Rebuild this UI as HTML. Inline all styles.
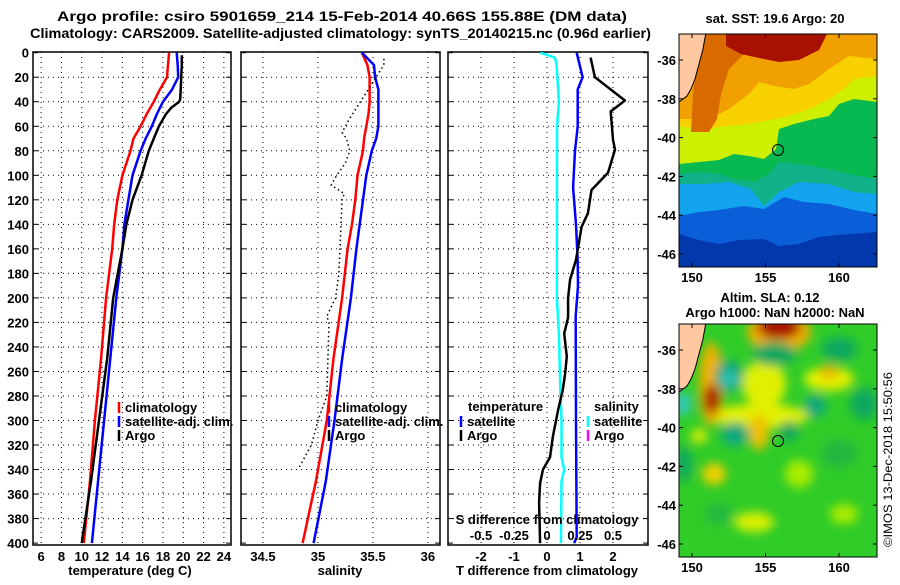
<!DOCTYPE html>
<html><head><meta charset="utf-8"><style>
html,body{margin:0;padding:0;background:#fff;}
svg text{font-family:"Liberation Sans",Arial,sans-serif;font-weight:bold;fill:#000;}
</style></head><body>
<svg id="fig" width="900" height="580" viewBox="0 0 900 580" xmlns="http://www.w3.org/2000/svg">
<defs>
<clipPath id="c1"><rect x="33" y="52" width="198" height="493"/></clipPath>
<clipPath id="c2"><rect x="241" y="52" width="199" height="493"/></clipPath>
<clipPath id="c3"><rect x="448" y="52" width="200" height="493"/></clipPath>
<clipPath id="m1"><rect x="0" y="0" width="198" height="233"/></clipPath>
<filter id="blur" x="-50%" y="-50%" width="200%" height="200%"><feGaussianBlur stdDeviation="5"/></filter>
</defs>
<text x="57" y="21" font-size="14" textLength="570" lengthAdjust="spacingAndGlyphs">Argo profile: csiro 5901659_214 15-Feb-2014 40.66S 155.88E (DM data)</text>
<text x="30" y="38" font-size="14" textLength="621" lengthAdjust="spacingAndGlyphs">Climatology: CARS2009. Satellite-adjusted climatology: synTS_20140215.nc (0.96d earlier)</text>
<g id="p1"></g>
<g id="p2"></g>
<g id="p3"></g>

<!-- SST map -->
<g>
<text x="775" y="23" font-size="13" text-anchor="middle">sat. SST: 19.6 Argo: 20</text>
<g transform="translate(679,34)" clip-path="url(#m1)">
<rect width="198" height="233" fill="#0338ac"/>
<polygon fill="#0a5fd8" points="0,0 198,0 198,198 170,200 140,203 120,210 100,212 85,205 60,206 40,210 20,206 0,200"/>
<polygon fill="#12a4ee" points="0,0 198,0 198,180 175,176 150,170 125,168 105,163 85,175 65,172 40,176 20,178 0,182"/>
<polygon fill="#10b088" points="0,0 198,0 198,160 175,158 150,150 120,148 100,158 85,172 72,155 50,148 25,150 0,150"/>
<polygon fill="#08b850" points="0,0 198,0 198,145 170,140 150,135 120,130 100,128 90,140 75,148 55,145 40,140 20,138 0,140"/>
<polygon fill="#cef000" points="0,0 198,0 198,68 175,65 160,70 150,82 135,85 115,90 100,95 97,115 85,125 70,122 55,120 40,126 20,128 0,130"/>
<polygon fill="#f8d000" points="0,0 198,0 198,42 175,45 165,55 150,65 130,75 110,82 90,86 70,90 45,92 25,96 0,92"/>
<polygon fill="#f0a000" points="0,0 198,0 198,25 170,22 150,35 130,50 115,55 95,52 80,48 70,60 50,75 30,85 0,85"/>
<polygon fill="#d86a00" points="18,0 70,0 65,20 50,35 42,60 38,85 30,98 12,98 14,60 18,30"/>
<polygon fill="#a81000" points="47,0 148,0 140,16 120,26 100,28 80,24 62,20 47,12"/>
<polygon fill="#ffc8a0" stroke="#000" stroke-width="1" points="-2,-2 27,-2 24,15 20,30 16,45 12,55 8,62 0,68 -2,68"/>
<circle cx="99" cy="116" r="5.5" fill="none" stroke="#000" stroke-width="1"/>
</g>
<rect x="679" y="34" width="198" height="233" fill="none" stroke="#000" stroke-width="1"/>
</g>

<!-- SLA map -->
<g>
<text x="770" y="302" font-size="13" text-anchor="middle">Altim. SLA: 0.12</text>
<text x="775" y="317" font-size="13" text-anchor="middle">Argo h1000: NaN h2000: NaN</text>
<g transform="translate(679,324)" clip-path="url(#m1)">
<rect width="198" height="233" fill="#30cc28"/>
<g filter="url(#blur)">
<ellipse cx="80" cy="92" rx="50" ry="12" fill="#e4f000"/>
<ellipse cx="85" cy="60" rx="22" ry="24" fill="#e0f000"/>
<ellipse cx="150" cy="55" rx="25" ry="12" fill="#e4f000"/>
<ellipse cx="100" cy="8" rx="32" ry="20" fill="#f0b000"/>
<ellipse cx="100" cy="3" rx="22" ry="12" fill="#a81000"/>
<ellipse cx="32" cy="60" rx="12" ry="42" fill="#f0b000"/>
<ellipse cx="33" cy="75" rx="8" ry="15" fill="#a81000"/>
<ellipse cx="80" cy="108" rx="10" ry="18" fill="#f0c000"/>
<ellipse cx="150" cy="48" rx="9" ry="7" fill="#f0b000"/>
<ellipse cx="50" cy="52" rx="14" ry="16" fill="#10a880"/>
<ellipse cx="50" cy="55" rx="7" ry="7" fill="#30c8c0"/>
<ellipse cx="95" cy="30" rx="22" ry="12" fill="#10a860"/>
<ellipse cx="160" cy="25" rx="18" ry="12" fill="#10a860"/>
<ellipse cx="136" cy="82" rx="11" ry="11" fill="#10a880"/>
<ellipse cx="56" cy="110" rx="14" ry="12" fill="#10a880"/>
<ellipse cx="110" cy="107" rx="10" ry="10" fill="#10a860"/>
<ellipse cx="4" cy="80" rx="8" ry="12" fill="#30c8c0"/>
<ellipse cx="185" cy="80" rx="14" ry="16" fill="#10a860"/>
<ellipse cx="20" cy="112" rx="8" ry="7" fill="#e4f000"/>
<ellipse cx="35" cy="150" rx="12" ry="11" fill="#f0d000"/>
<ellipse cx="75" cy="198" rx="20" ry="10" fill="#d8f000"/>
<ellipse cx="120" cy="150" rx="14" ry="14" fill="#a8ec00"/>
<ellipse cx="165" cy="190" rx="14" ry="10" fill="#a8ec00"/>
<ellipse cx="5" cy="140" rx="8" ry="18" fill="#10a860"/>
<ellipse cx="160" cy="130" rx="18" ry="14" fill="#20b840"/>
<ellipse cx="40" cy="190" rx="14" ry="10" fill="#20b840"/>
</g>
<polygon fill="#ffc8a0" stroke="#000" stroke-width="1" points="-2,-2 27,-2 24,15 20,30 16,45 12,55 8,62 0,68 -2,68"/>
<circle cx="99" cy="117" r="5.5" fill="none" stroke="#000" stroke-width="1"/>
</g>
<rect x="679" y="324" width="198" height="233" fill="none" stroke="#000" stroke-width="1"/>
</g>
<g id="mapaxes"></g>
<text transform="translate(892,547) rotate(-90)" font-size="12" style="font-weight:normal" textLength="175" lengthAdjust="spacingAndGlyphs">©IMOS 13-Dec-2018 15:50:56</text>
</svg>
<script>
// ---- data ----
const depthTicks = [0,20,40,60,80,100,120,140,160,180,200,220,240,260,280,300,320,340,360,380,400];
const tempTicks = [6,8,10,12,14,16,18,20,22,24];
const salTicks = [34.5,35,35.5,36];
const dTTicks = [-2,-1,0,1,2];
const dSTicks = [-0.5,-0.25,0,0.25,0.5];
const dSTickLabels = ["-0.5","-0.25","0","0.25","0.5"];
const depthsClim = [0,10,20,30,40,50,60,70,80,100,120,140,160,200,250,300,350,400];
const tempClim = [18.6,18.5,18.4,17.7,17.1,16.4,15.8,15.1,14.8,14.0,13.5,13.2,13.0,12.4,11.9,11.3,10.8,10.2];
const tempSat = [19.35,19.45,19.5,18.9,18.0,17.4,16.9,16.3,15.8,15.0,14.6,14.2,14.0,13.4,12.8,12.2,11.6,11.0];
const depthsArgoT = [2,10,20,30,38,40,45,50,60,70,80,100,120,140,160,200,250,300,350,400];
const tempArgo = [19.85,19.85,19.8,19.75,19.7,19.6,18.8,18.3,17.6,17.1,16.6,15.9,15.0,14.4,14.0,13.1,12.5,11.7,10.9,10.0];
const salClim = [35.40,35.45,35.47,35.47,35.47,35.46,35.44,35.42,35.41,35.36,35.34,35.31,35.27,35.22,35.14,35.08,34.98,34.86];
const salSat = [35.40,35.51,35.52,35.55,35.55,35.55,35.55,35.53,35.49,35.44,35.41,35.38,35.35,35.30,35.22,35.15,35.07,34.96];
const depthsArgoS = [5,10,55,60,65,70,80,90,100,108,115,120,140,160,180,200,215,220,280,300,320,338];
const salArgo = [35.60,35.60,35.28,35.25,35.22,35.26,35.29,35.25,35.17,35.12,35.24,35.22,35.21,35.20,35.19,35.16,35.08,35.10,35.08,35.00,34.94,34.83];
const depthsDTArgo = [4,20,39,48,71,79,98,112,131,142,169,185,200,216,229,248,262,275,291,313,330,340,351,367,400];
const dTArgo = [1.32,1.45,2.36,1.93,2.0,2.06,1.85,1.35,1.24,1.05,0.88,0.7,0.64,0.64,0.52,0.6,0.55,0.48,0.34,0.18,0.09,-0.12,-0.21,-0.24,-0.21];
const depthsDTSat = [0,20,30,60,80,110,140,170,190,215,300,395,400];
const dTSat = [0.9,1.08,0.93,0.93,0.85,0.79,0.88,0.93,0.94,0.87,0.88,0.9,0.82];
const depthsDSSat = [0,4,10,40,60,200,230,270,300,330,340,350,400];
const dSSat = [-0.05,0.06,0.073,0.09,0.076,0.075,0.09,0.10,0.11,0.11,0.13,0.11,0.105];
const lonTicks = [150,155,160];
const latTicks = [-36,-38,-40,-42,-44,-46];

// ---- axes ----
const NS = "http://www.w3.org/2000/svg";
const Y0 = 52, Y1 = 545;
function yD(d){ return 52.7 + d*1.226; }
function xT(t){ return 33 + (t-5.2)/(24.7-5.2)*198; }
function xS(s){ return 241 + (s-34.30)/(36.11-34.30)*199; }
function xDT(t){ return 547 + 33*t; }
function xDS(s){ return 547 + 132*s; }
function lonX(l){ return 692 + (l-150)*14.7; }
function latY(l){ return 60 + (-36-l)*19.4; }
function mk(tag, attrs, parent){
  const e = document.createElementNS(NS, tag);
  for (const k in attrs) e.setAttribute(k, attrs[k]);
  parent.appendChild(e); return e;
}
function panel(g, x0, x1, clip, xs, xticks, xlabels, ylabels, title, titleX){
  mk('rect',{x:x0,y:Y0,width:x1-x0,height:Y1-Y0,fill:'#fff'},g);
  for (let i=0;i<xticks.length;i++){
    const x = xs(xticks[i]);
    const ln = mk('line',{x1:x,x2:x,y1:Y0,y2:Y1,stroke:'#000','stroke-width':1,'stroke-dasharray':'1,4'},g);
    
    
    const t = mk('text',{x:x,y:561,'font-size':13,'text-anchor':'middle'},g);
    t.textContent = xlabels[i];
    
    
  }
  for (const d of depthTicks){
    const y = yD(d);
    if (d>0 && d<400){
      const ln = mk('line',{x1:x0,x2:x1,y1:y,y2:y,stroke:'#000','stroke-width':1,'stroke-dasharray':'1,4'},g);
      
      
    }
    mk('line',{x1:x0,x2:x0+5,y1:y,y2:y,stroke:'#000'},g);
    mk('line',{x1:x1-5,x2:x1,y1:y,y2:y,stroke:'#000'},g);
    if (ylabels){
      const t = mk('text',{x:29,y:y+5,'font-size':13,'text-anchor':'end'},g);
      t.textContent = d;
      
      
    }
  }
  const fr = mk('rect',{x:x0,y:Y0,width:x1-x0,height:Y1-Y0,fill:'none',stroke:'#000','stroke-width':1.5},g);
  
  
  const at = mk('text',{x:titleX,y:575,'font-size':13,'text-anchor':'middle'},g);
  at.textContent = title;
  
  
}
function line(g, depths, vals, xs, color, name, dash){
  let d = '';
  for (let i=0;i<depths.length;i++) d += (i?'L':'M') + xs(vals[i]).toFixed(1) + ',' + yD(depths[i]).toFixed(1);
  const p = mk('path',{d:d,fill:'none',stroke:color,'stroke-width':dash?1.5:2.5,'stroke-linejoin':'round'},g);
  if (dash) p.setAttribute('stroke-dasharray', dash);
  
  
}
function legend(g, x, y, color, label, name){
  mk('line',{x1:x,x2:x,y1:y-10,y2:y+1,stroke:color,'stroke-width':2.5},g);
  const t = mk('text',{x:x+6,y:y,'font-size':13},g);
  t.textContent = label;
  
  
}
// panel 1
const p1 = document.getElementById('p1');
panel(p1, 33, 231, 'c1', xT, tempTicks, tempTicks.map(String), true, 'temperature (deg C)', 130);
const g1 = mk('g',{'clip-path':'url(#c1)'},p1);
line(g1, depthsClim, tempClim, xT, '#ff0000', 'temp-climatology-line');
line(g1, depthsClim, tempSat, xT, '#0000ff', 'temp-satellite-line');
line(g1, depthsArgoT, tempArgo, xT, '#000000', 'temp-argo-line');
legend(p1, 119, 412, '#ff0000', 'climatology', 'legend-climatology');
legend(p1, 119, 426, '#0000ff', 'satellite-adj. clim.', 'legend-satellite');
legend(p1, 119, 440, '#000000', 'Argo', 'legend-argo');
// panel 2
const p2 = document.getElementById('p2');
panel(p2, 241, 440, 'c2', xS, salTicks, ["34.5","35","35.5","36"], false, 'salinity', 340);
const g2 = mk('g',{'clip-path':'url(#c2)'},p2);
line(g2, depthsClim, salClim, xS, '#ff0000', 'sal-climatology-line');
line(g2, depthsClim, salSat, xS, '#0000ff', 'sal-satellite-line');
line(g2, depthsArgoS, salArgo, xS, '#000000', 'sal-argo-line', '1.5,3');
legend(p2, 329, 412, '#ff0000', 'climatology', 'legend-climatology');
legend(p2, 329, 426, '#0000ff', 'satellite-adj. clim.', 'legend-satellite');
legend(p2, 329, 440, '#000000', 'Argo', 'legend-argo');
// panel 3
const p3 = document.getElementById('p3');
panel(p3, 448, 648, 'c3', xDT, dTTicks, dTTicks.map(String), false, 'T difference from climatology', 547);
const g3 = mk('g',{'clip-path':'url(#c3)'},p3);
line(g3, depthsDSSat, dSSat, xDS, '#00ffff', 'sdiff-satellite-line');
line(g3, depthsDTSat, dTSat, xDT, '#0000ff', 'tdiff-satellite-line');
line(g3, depthsDTArgo, dTArgo, xDT, '#000000', 'tdiff-argo-line');
const lt = mk('text',{x:468,y:411,'font-size':13},p3); lt.textContent='temperature';


legend(p3, 461, 426, '#0000ff', 'satellite', 'legend-t-satellite');
legend(p3, 461, 440, '#000000', 'Argo', 'legend-t-argo');
const ls = mk('text',{x:594,y:411,'font-size':13},p3); ls.textContent='salinity';


legend(p3, 588, 426, '#00ffff', 'satellite', 'legend-s-satellite');
legend(p3, 588, 440, '#ff00ff', 'Argo', 'legend-s-argo');
const st = mk('text',{x:547,y:524,'font-size':13,'text-anchor':'middle'},p3); st.textContent='S difference from climatology';


for (let i=0;i<dSTicks.length;i++){
  const t = mk('text',{x:xDS(dSTicks[i]),y:540,'font-size':13,'text-anchor':'middle'},p3);
  t.textContent = dSTickLabels[i];
  
  
}
// map axes
const ma = document.getElementById('mapaxes');
for (const top of [34, 324]){
  const bot = top + 233;
  for (const l of lonTicks){
    const x = lonX(l);
    mk('line',{x1:x,x2:x,y1:bot-4,y2:bot,stroke:'#000'},ma);
    mk('line',{x1:x,x2:x,y1:top,y2:top+4,stroke:'#000'},ma);
    const t = mk('text',{x:x,y:bot+15,'font-size':13,'text-anchor':'middle'},ma);
    t.textContent = l;
    
    
  }
  for (const l of latTicks){
    const y = latY(l) + (top-34);
    mk('line',{x1:679,x2:683,y1:y,y2:y,stroke:'#000'},ma);
    mk('line',{x1:873,x2:877,y1:y,y2:y,stroke:'#000'},ma);
    const t = mk('text',{x:676,y:y+5,'font-size':13,'text-anchor':'end'},ma);
    t.textContent = l;
    
    
  }
}
</script>
</body></html>
